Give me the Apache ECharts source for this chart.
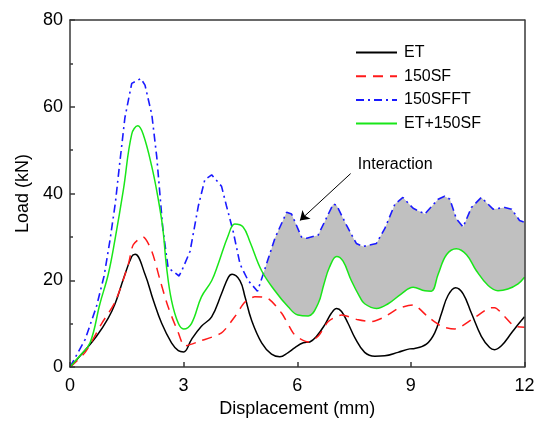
<!DOCTYPE html>
<html>
<head>
<meta charset="utf-8">
<script src="https://cdn.jsdelivr.net/npm/echarts@6/dist/echarts.min.js"></script>
<style>
  html, body { margin: 0; padding: 0; background: #fff; }
  #chart { width: 538px; height: 423px; }
</style>
</head>
<body>
<div id="chart"></div>
<script>
// Load–displacement curves, [displacement (mm), load (kN)]
const ET = [
  [0, 0], [0.31, 3.0], [0.70, 7.1], [1.01, 11.3], [1.19, 14.6], [1.41, 20.3], [1.63, 25.5],
  [1.72, 26.0], [1.98, 21.4], [2.20, 15.4], [2.42, 10.1], [2.68, 5.6], [2.86, 3.8], [3.0, 3.5],
  [3.21, 6.4], [3.47, 9.4], [3.74, 11.6], [4.0, 16.9], [4.18, 20.7], [4.28, 21.4], [4.49, 19.9],
  [4.62, 16.2], [4.79, 10.9], [5.06, 5.6], [5.32, 3.0], [5.54, 2.4], [5.75, 3.3], [5.94, 4.5],
  [6.16, 5.6], [6.33, 5.8], [6.51, 7.1], [6.73, 9.8], [6.90, 12.4], [7.04, 13.5], [7.17, 12.8],
  [7.34, 10.1], [7.52, 6.8], [7.78, 3.4], [8.05, 2.5], [8.31, 2.6], [8.66, 3.4], [8.97, 4.2],
  [9.10, 4.3], [9.41, 5.3], [9.63, 7.9], [9.81, 12.4], [9.98, 16.5], [10.18, 18.3], [10.38, 16.9],
  [10.60, 12.4], [10.86, 7.1], [11.08, 4.5], [11.21, 4.0], [11.39, 4.9], [11.66, 7.9],
  [11.83, 9.8], [12, 11.6]
];
const SF150 = [
  [0, 0], [0.40, 3.4], [0.84, 10.1], [1.19, 15.0], [1.54, 23.7], [1.67, 28.2], [1.93, 30.0],
  [2.16, 26.7], [2.37, 20.3], [2.59, 13.9], [2.86, 7.9], [3.03, 4.9], [3.43, 6.0], [4.0, 7.9],
  [4.35, 11.6], [4.62, 15.0], [4.88, 16.2], [5.23, 15.8], [5.59, 12.4], [5.89, 7.9], [6.02, 6.8],
  [6.29, 5.8], [6.55, 7.1], [6.82, 10.5], [7.17, 12.0], [7.61, 10.9], [7.96, 10.5], [8.31, 11.6],
  [8.66, 13.5], [9.06, 14.3], [9.45, 11.6], [9.81, 9.4], [10.16, 8.8], [10.60, 10.9],
  [11.04, 13.5], [11.21, 13.7], [11.48, 11.6], [11.74, 9.4], [12, 9.2]
];
const SFFT150 = [
  [0, 0], [0.40, 6.4], [0.70, 14.0], [0.90, 21.0], [1.06, 29.5], [1.20, 38.0], [1.30, 46.0],
  [1.45, 57.5], [1.63, 65.4], [1.87, 66.5], [1.98, 65.0], [2.16, 58.2], [2.29, 48.5], [2.45, 32.0],
  [2.59, 22.9], [2.88, 21.0], [2.95, 22.2], [3.17, 26.7], [3.39, 37.2], [3.56, 43.2], [3.74, 44.3],
  [4.0, 41.7], [4.13, 37.2], [4.31, 31.2], [4.49, 23.7], [4.70, 20.0], [4.95, 17.5], [5.10, 21.4],
  [5.41, 29.7], [5.72, 35.7], [5.85, 35.3], [6.11, 30.0], [6.25, 29.7], [6.55, 30.4], [6.95, 37.6],
  [7.04, 37.3], [7.30, 32.7], [7.56, 28.5], [7.74, 27.8], [8.09, 28.5], [8.31, 31.9], [8.58, 37.6],
  [8.79, 39.1], [9.06, 36.6], [9.37, 35.3], [9.72, 38.7], [9.89, 39.4], [10.03, 38.7],
  [10.20, 34.2], [10.38, 32.3], [10.60, 36.8], [10.86, 39.1], [11.17, 36.4], [11.48, 36.8],
  [11.66, 36.4], [11.87, 33.8], [12, 33.4]
];
const ET_SF150 = [
  [0, 0], [0.26, 2.6], [0.53, 5.6], [0.79, 14.6], [1.01, 21.4], [1.19, 29.5], [1.41, 40.9],
  [1.63, 53.7], [1.79, 55.6], [1.93, 53.7], [2.16, 46.2], [2.33, 38.7], [2.45, 32.0], [2.55, 23.0],
  [2.68, 15.4], [2.86, 10.1], [3.0, 8.8], [3.21, 10.1], [3.47, 16.2], [3.74, 19.9], [3.91, 23.7],
  [4.18, 30.4], [4.35, 33.0], [4.57, 32.3], [4.75, 28.9], [5.06, 22.2], [5.41, 17.6], [5.76, 13.9],
  [6.02, 12.0], [6.29, 11.8], [6.55, 14.6], [6.70, 19.0], [6.85, 23.0], [7.04, 25.5], [7.21, 24.4],
  [7.43, 19.9], [7.65, 16.2], [7.78, 14.6], [8.09, 13.5], [8.40, 14.6], [8.75, 16.9], [9.06, 18.4],
  [9.37, 17.6], [9.54, 17.5], [9.72, 21.4], [9.94, 25.9], [10.20, 27.3], [10.47, 25.9],
  [10.73, 22.2], [11.04, 18.8], [11.30, 17.6], [11.56, 18.0], [11.83, 19.2], [12, 20.7]
];

// Axis ranges and ticks
const X_RANGE = [0, 12], X_STEP = 3;
const Y_RANGE = [0, 80], Y_STEP = 20;

// Shaded "interaction" band: region between 150SFFT and ET+150SF where the former is higher
const BAND_START = 5.05;
const bandUpper = SFFT150.filter(p => p[0] >= BAND_START);
const bandLower = ET_SF150.filter(p => p[0] >= BAND_START);

// Annotation anchor points (data space)
const NOTE_TEXT = 'Interaction';
const NOTE_POS = [7.6, 46.6];
const ARROW_FROM = [7.41, 44.6];
const ARROW_TO = [6.07, 33.8];

const FONT = '"Liberation Sans", Arial, sans-serif';
const AXIS_COLOR = '#383838';

const chart = echarts.init(document.getElementById('chart'), null, { renderer: 'canvas' });

const axisCommon = {
  z: 10,
  axisLine: { show: true, onZero: false, lineStyle: { color: AXIS_COLOR, width: 1.5 } },
  splitLine: { show: false },
};

const option = {
  animation: false,
  backgroundColor: '#fff',
  textStyle: { fontFamily: FONT },
  grid: { left: 70, top: 20, right: 13.5, bottom: 48, containLabel: false },
  legend: {
    orient: 'vertical',
    left: 350,
    top: 39.5,
    itemWidth: 41,
    itemHeight: 14,
    itemGap: 7.7,
    itemStyle: { opacity: 0, borderWidth: 0 },
    data: ['ET', '150SF', '150SFFT', 'ET+150SF'],
    textStyle: { fontFamily: FONT, fontSize: 16, color: '#000', padding: [0, 0, 0, 2] },
  },
  xAxis: [
    Object.assign({}, axisCommon, {
      type: 'value', min: X_RANGE[0], max: X_RANGE[1], interval: X_STEP,
      name: 'Displacement (mm)', nameLocation: 'middle', nameGap: 31,
      nameTextStyle: { fontFamily: FONT, fontSize: 18, color: '#000' },
      axisTick: { show: true, inside: true, length: 5, lineStyle: { color: AXIS_COLOR, width: 1.5 } },
      axisLabel: { fontFamily: FONT, fontSize: 18, color: '#000', margin: 10 },
    }),
    Object.assign({}, axisCommon, {
      type: 'value', position: 'top', min: X_RANGE[0], max: X_RANGE[1], interval: X_STEP,
      axisTick: { show: false }, axisLabel: { show: false },
    }),
  ],
  yAxis: [
    Object.assign({}, axisCommon, {
      type: 'value', min: Y_RANGE[0], max: Y_RANGE[1], interval: Y_STEP,
      name: 'Load (kN)', nameLocation: 'middle', nameGap: 36,
      nameTextStyle: { fontFamily: FONT, fontSize: 18, color: '#000' },
      axisTick: { show: true, inside: true, length: 5, lineStyle: { color: AXIS_COLOR, width: 1.5 } },
      minorTick: { show: true, splitNumber: 2, length: 3, lineStyle: { color: AXIS_COLOR, width: 1.5 } },
      axisLabel: { fontFamily: FONT, fontSize: 18, color: '#000', margin: 7 },
    }),
    Object.assign({}, axisCommon, {
      type: 'value', position: 'right', min: Y_RANGE[0], max: Y_RANGE[1], interval: Y_STEP,
      axisTick: { show: false }, axisLabel: { show: false },
    }),
  ],
  series: [
    // gray fill up to the upper boundary of the band
    {
      name: 'band-upper', type: 'line', data: bandUpper, symbol: 'none', smooth: false,
      lineStyle: { width: 0, opacity: 0 }, areaStyle: { color: '#c0c0c0', opacity: 1 },
      silent: true, z: 1,
    },
    // white fill below the lower boundary, leaving only the band shaded
    {
      name: 'band-lower', type: 'line', data: bandLower, symbol: 'none', smooth: 0.4,
      lineStyle: { width: 0, opacity: 0 }, areaStyle: { color: '#ffffff', opacity: 1 },
      silent: true, z: 1,
    },
    {
      name: 'ET', type: 'line', data: ET, symbol: 'none', smooth: 0.4, z: 3,
      lineStyle: { color: '#000000', width: 1.5 }, itemStyle: { color: '#000000' },
    },
    {
      name: '150SF', type: 'line', data: SF150, symbol: 'none', smooth: 0.25, z: 3,
      lineStyle: { color: '#ff1a1a', width: 1.5, type: [10, 7] }, itemStyle: { color: '#ff1a1a' },
    },
    {
      name: '150SFFT', type: 'line', data: SFFT150, symbol: 'none', smooth: false, z: 3,
      lineStyle: { color: '#1a1aff', width: 1.6, type: [8, 4, 2, 4] }, itemStyle: { color: '#1a1aff' },
      markLine: {
        silent: true,
        symbol: ['none', 'arrow'],
        symbolSize: 9,
        lineStyle: { color: '#000', width: 1, type: 'solid' },
        itemStyle: { color: '#000' },
        label: { show: false },
        data: [[{ coord: ARROW_FROM }, { coord: ARROW_TO }]],
      },
      markPoint: {
        silent: true,
        symbol: 'circle',
        symbolSize: 0,
        label: {
          show: true, position: 'right', distance: 0, formatter: NOTE_TEXT,
          fontFamily: FONT, fontSize: 16, color: '#000',
        },
        data: [{ coord: NOTE_POS }],
      },
    },
    {
      name: 'ET+150SF', type: 'line', data: ET_SF150, symbol: 'none', smooth: 0.4, z: 4,
      lineStyle: { color: '#19e619', width: 1.5 }, itemStyle: { color: '#19e619' },
    },
  ],
};

chart.setOption(option);
</script>
</body>
</html>
